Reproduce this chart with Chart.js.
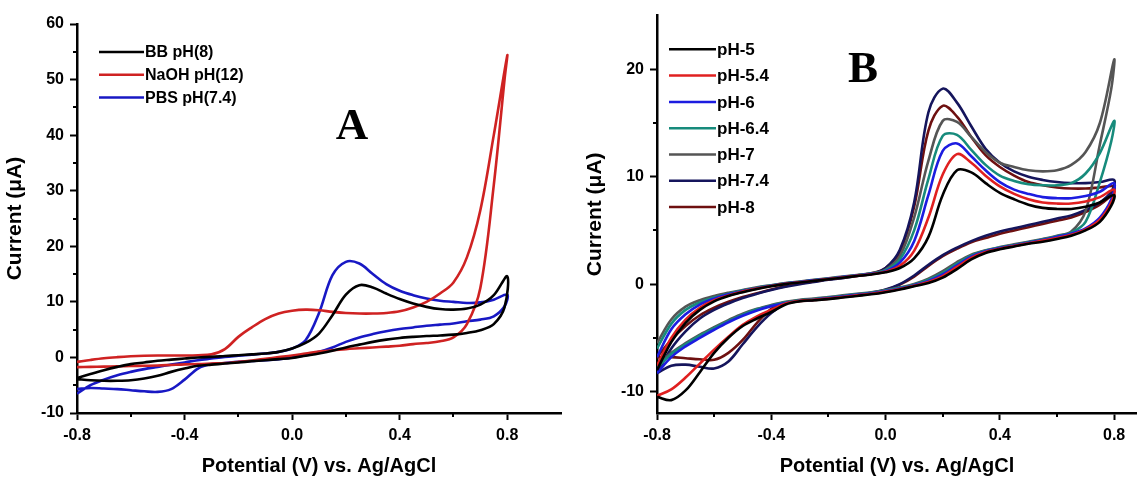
<!DOCTYPE html>
<html>
<head>
<meta charset="utf-8">
<script src="https://cdn.jsdelivr.net/npm/chart.js@4.4.1/dist/chart.umd.min.js"></script>
<style>
  html, body { margin: 0; padding: 0; background: #fff; }
  #wrap { position: relative; width: 1137px; height: 480px; overflow: hidden; }
  canvas { position: absolute; top: 0; }
  #chart-a { left: 0; }
  #chart-b { left: 580px; }
</style>
</head>
<body>
<div id="wrap">
  <canvas id="chart-a" width="568" height="480"></canvas>
  <canvas id="chart-b" width="557" height="480"></canvas>
</div>
<script>
// potential grid: anodic sweep -0.8 -> 0.8, cathodic sweep back to -0.8
const E_FWD = [-0.8, -0.75, -0.7, -0.65, -0.6, -0.55, -0.5, -0.45, -0.4, -0.35, -0.3, -0.25, -0.2, -0.15, -0.1, -0.05, 0,
  0.05, 0.1, 0.15, 0.2, 0.25, 0.3, 0.35, 0.4, 0.45, 0.5, 0.55, 0.6, 0.65, 0.7, 0.75, 0.8];
const E_REV = [0.79, 0.75, 0.7, 0.65, 0.6, 0.55, 0.5, 0.45, 0.4, 0.35, 0.3, 0.25, 0.2, 0.15, 0.1, 0.05, 0,
  -0.05, -0.1, -0.15, -0.2, -0.25, -0.3, -0.35, -0.4, -0.45, -0.5, -0.55, -0.6, -0.65, -0.7, -0.75, -0.8];

// panel A (current, µA)
const BB_FWD = [-3.7, -3.0, -2.3, -1.7, -1.2, -0.9, -0.6, -0.4, -0.2, 0.0, 0.1, 0.25, 0.4, 0.55, 0.7, 1.0, 1.6,
  2.6, 4.3, 7.6, 11.3, 13.0, 12.6, 11.5, 10.5, 9.7, 9.1, 8.7, 8.6, 8.8, 9.5, 11.2, 14.6];
const BB_REV = [9.0, 6.0, 4.9, 4.4, 4.1, 3.95, 3.85, 3.7, 3.5, 3.2, 2.8, 2.3, 1.8, 1.2, 0.7, 0.3, -0.1,
  -0.3, -0.5, -0.7, -0.9, -1.1, -1.3, -1.5, -2.0, -2.6, -3.3, -3.8, -4.1, -4.2, -4.2, -4.1, -3.9];
const NAOH_FWD = [-0.8, -0.45, -0.15, 0.05, 0.2, 0.3, 0.35, 0.35, 0.35, 0.4, 0.55, 1.5, 3.7, 5.4, 6.9, 7.9, 8.4,
  8.6, 8.5, 8.2, 8.0, 7.9, 7.9, 8.0, 8.3, 9.0, 10.0, 11.5, 13.5, 18.0, 26.5, 40.0, 54.3];
const NAOH_REV = [50.0, 31.0, 12.5, 6.0, 3.6, 2.9, 2.6, 2.4, 2.1, 1.95, 1.8, 1.65, 1.5, 1.3, 1.05, 0.7, 0.35,
  0.05, -0.25, -0.55, -0.8, -1.0, -1.1, -1.2, -1.25, -1.35, -1.45, -1.5, -1.55, -1.6, -1.65, -1.7, -1.75];
const PBS_FWD = [-6.5, -5.0, -4.0, -3.2, -2.6, -2.1, -1.7, -1.3, -0.9, -0.5, -0.2, 0.1, 0.3, 0.5, 0.7, 1.0, 1.6,
  3.1, 8.0, 14.8, 17.2, 16.9, 15.0, 13.2, 12.0, 11.2, 10.6, 10.2, 10.0, 9.8, 9.9, 10.4, 11.3];
const PBS_REV = [9.2, 7.4, 6.8, 6.5, 6.1, 5.9, 5.7, 5.4, 5.1, 4.7, 4.2, 3.6, 2.8, 1.8, 1.0, 0.4, 0.0,
  -0.3, -0.5, -0.65, -0.8, -1.0, -1.2, -2.0, -4.0, -5.7, -6.2, -6.1, -5.9, -5.7, -5.6, -5.5, -5.7];

// panel B (current, µA)
const PH5_FWD = [-8.0, -5.4, -3.6, -2.4, -1.6, -1.1, -0.75, -0.45, -0.2, 0.0, 0.15, 0.3, 0.45, 0.6, 0.75, 0.9, 1.1,
  1.5, 2.4, 4.4, 8.3, 10.6, 10.4, 9.4, 8.5, 7.9, 7.4, 7.1, 7.0, 7.0, 7.2, 7.6, 8.3];
const PH5_REV = [7.3, 5.8, 5.0, 4.5, 4.2, 3.95, 3.75, 3.5, 3.25, 2.9, 2.3, 1.4, 0.6, 0.1, -0.2, -0.5, -0.75,
  -0.95, -1.1, -1.25, -1.4, -1.5, -1.6, -1.9, -2.6, -3.2, -3.9, -5.0, -6.4, -8.2, -9.9, -10.8, -10.5];
const PH54_FWD = [-7.6, -5.0, -3.3, -2.2, -1.5, -1.05, -0.7, -0.42, -0.18, 0.02, 0.18, 0.32, 0.47, 0.62, 0.77, 0.92, 1.15,
  1.7, 3.1, 6.2, 10.2, 12.1, 11.3, 10.1, 9.1, 8.4, 7.9, 7.6, 7.5, 7.5, 7.7, 8.1, 8.8];
const PH54_REV = [7.6, 6.0, 5.1, 4.6, 4.3, 4.05, 3.8, 3.55, 3.3, 3.0, 2.45, 1.6, 0.75, 0.2, -0.15, -0.45, -0.7,
  -0.9, -1.05, -1.2, -1.35, -1.45, -1.55, -1.8, -2.4, -3.0, -3.8, -4.9, -6.1, -7.4, -8.7, -9.8, -10.4];
const PH6_FWD = [-6.8, -4.2, -2.8, -1.9, -1.35, -0.95, -0.65, -0.38, -0.15, 0.05, 0.2, 0.35, 0.5, 0.65, 0.8, 0.95, 1.2,
  2.0, 4.0, 8.3, 12.4, 13.1, 11.9, 10.6, 9.5, 8.8, 8.4, 8.1, 8.0, 8.0, 8.2, 8.6, 9.4];
const PH6_REV = [7.9, 6.2, 5.2, 4.7, 4.4, 4.1, 3.85, 3.6, 3.35, 3.05, 2.55, 1.75, 0.9, 0.3, -0.1, -0.4, -0.65,
  -0.85, -1.0, -1.15, -1.3, -1.45, -1.55, -1.75, -2.05, -2.45, -2.95, -3.55, -4.25, -5.0, -5.8, -6.8, -8.3];
const PH64_FWD = [-6.0, -3.7, -2.4, -1.7, -1.25, -0.9, -0.6, -0.35, -0.12, 0.07, 0.22, 0.37, 0.52, 0.67, 0.82, 0.98, 1.3,
  2.3, 5.0, 9.8, 13.8, 13.9, 12.5, 11.1, 10.1, 9.6, 9.3, 9.2, 9.2, 9.4, 10.3, 12.2, 15.2];
const PH64_REV = [13.3, 9.5, 5.8, 4.8, 4.45, 4.15, 3.9, 3.65, 3.4, 3.1, 2.65, 1.9, 1.05, 0.4, -0.05, -0.35, -0.6,
  -0.8, -0.95, -1.1, -1.25, -1.4, -1.5, -1.7, -2.0, -2.35, -2.85, -3.45, -4.1, -4.8, -5.6, -6.5, -7.8];
const PH7_FWD = [-5.5, -3.3, -2.1, -1.5, -1.1, -0.8, -0.55, -0.3, -0.1, 0.1, 0.25, 0.4, 0.55, 0.7, 0.85, 1.0, 1.35,
  2.6, 6.2, 11.5, 15.2, 15.1, 13.7, 12.3, 11.3, 10.9, 10.6, 10.5, 10.6, 11.1, 12.3, 15.0, 20.9];
const PH7_REV = [18.2, 13.0, 6.8, 4.9, 4.5, 4.2, 3.95, 3.7, 3.45, 3.15, 2.75, 2.05, 1.2, 0.5, 0.0, -0.3, -0.55,
  -0.75, -0.9, -1.05, -1.2, -1.35, -1.45, -1.65, -1.95, -2.3, -2.75, -3.35, -4.0, -4.7, -5.5, -6.4, -7.6];
const PH74_FWD = [-8.3, -6.0, -4.4, -3.2, -2.4, -1.8, -1.3, -0.9, -0.55, -0.25, 0.0, 0.2, 0.4, 0.55, 0.75, 0.95, 1.5,
  3.2, 7.6, 16.0, 18.2, 16.9, 14.7, 12.6, 11.3, 10.5, 10.0, 9.7, 9.5, 9.4, 9.4, 9.5, 9.7];
const PH74_REV = [8.6, 7.6, 6.9, 6.4, 6.1, 5.8, 5.5, 5.2, 4.9, 4.5, 4.0, 3.4, 2.7, 1.8, 0.8, 0.0, -0.5,
  -0.8, -1.0, -1.15, -1.3, -1.45, -1.55, -1.8, -2.7, -4.0, -5.6, -7.2, -7.85, -7.7, -7.5, -7.6, -8.3];
const PH8_FWD = [-6.8, -5.2, -3.9, -2.9, -2.2, -1.65, -1.2, -0.85, -0.5, -0.2, 0.05, 0.25, 0.45, 0.6, 0.8, 1.0, 1.5,
  3.0, 7.2, 14.3, 16.6, 15.6, 13.7, 12.0, 10.9, 10.1, 9.5, 9.2, 9.0, 8.9, 8.9, 9.0, 9.1];
const PH8_REV = [8.3, 7.4, 6.7, 6.2, 5.9, 5.6, 5.3, 5.0, 4.7, 4.3, 3.9, 3.3, 2.6, 1.7, 0.7, -0.05, -0.55,
  -0.85, -1.05, -1.2, -1.35, -1.5, -1.6, -1.75, -2.3, -3.6, -5.2, -6.4, -7.05, -7.0, -6.9, -6.8, -6.8];

// axis ticks
const X_MAJOR = [-0.8, -0.4, 0, 0.4, 0.8];
const X_MINOR = [-0.6, -0.2, 0.2, 0.6];
const A_Y_MAJOR = [-10, 0, 10, 20, 30, 40, 50, 60];
const A_Y_MINOR = [-5, 5, 15, 25, 35, 45, 55];
const B_Y_MAJOR = [-10, 0, 10, 20];
const B_Y_MINOR = [-5, 5, 15];

const FONT = '"Liberation Sans", Arial, sans-serif';

const loop = (fwd, rev) =>
  E_FWD.map((x, i) => ({ x, y: fwd[i] })).concat(E_REV.map((x, i) => ({ x, y: rev[i] })));

const series = (label, color, fwd, rev) => ({
  label, data: loop(fwd, rev), borderColor: color, borderWidth: 2.6,
  showLine: true, pointRadius: 0, tension: 0.35, fill: false,
});

// minor ticks, in-plot legend and panel letter
const deco = cfg => ({
  id: 'deco',
  afterDraw(chart) {
    const { ctx, chartArea: a, scales: { x, y } } = chart;
    ctx.save();
    ctx.strokeStyle = '#000';
    ctx.lineWidth = 2;
    ctx.beginPath();
    X_MINOR.forEach(v => {
      const px = Math.round(x.getPixelForValue(v));
      ctx.moveTo(px, a.bottom); ctx.lineTo(px, a.bottom + 4);
    });
    cfg.yMinor.forEach(v => {
      const py = Math.round(y.getPixelForValue(v));
      ctx.moveTo(a.left, py); ctx.lineTo(a.left - 4, py);
    });
    ctx.stroke();

    const lg = cfg.legend;
    ctx.font = `bold ${lg.size}px ${FONT}`;
    ctx.textBaseline = 'middle';
    ctx.textAlign = 'left';
    chart.data.datasets.forEach((d, i) => {
      const ly = lg.y + i * lg.dy;
      ctx.strokeStyle = d.borderColor;
      ctx.lineWidth = 2.5;
      ctx.beginPath(); ctx.moveTo(lg.x1, ly); ctx.lineTo(lg.x2, ly); ctx.stroke();
      ctx.fillStyle = '#000';
      ctx.fillText(d.label, lg.x2 + 1, ly + 1);
    });

    ctx.font = 'bold 45px "Liberation Serif", "Times New Roman", serif';
    ctx.textAlign = 'center';
    ctx.textBaseline = 'alphabetic';
    ctx.fillStyle = '#000';
    ctx.fillText(cfg.letter, cfg.letterX, cfg.letterY);
    ctx.restore();
  },
});

const scale = (min, max, major, title, size, fmt, fit) => ({
  type: 'linear', min, max,
  afterBuildTicks: s => { s.ticks = major.map(value => ({ value })); },
  afterFit: fit,
  ticks: { color: '#000', padding: 6, font: { family: FONT, size: 16, weight: 'bold' }, callback: fmt },
  grid: { drawOnChartArea: false, drawTicks: true, tickLength: 7, tickWidth: 2, tickColor: '#000' },
  border: { display: true, color: '#000', width: 2.5 },
  title: { display: true, text: title, color: '#000', padding: { top: 3, bottom: 2 },
    font: { family: FONT, size, weight: 'bold' } },
});

function makeChart(id, datasets, yMin, yMax, yMajor, yMinor, xMax, pad, extra) {
  return new Chart(document.getElementById(id), {
    type: 'scatter',
    data: { datasets },
    options: {
      responsive: false, animation: false, devicePixelRatio: 1,
      layout: { padding: pad },
      plugins: { legend: { display: false }, tooltip: { enabled: false } },
      scales: {
        x: scale(-0.8, xMax, X_MAJOR, 'Potential (V) vs. Ag/AgCl', 20, v => v.toFixed(1), s => { s.height = 67; }),
        y: scale(yMin, yMax, yMajor, 'Current (\u03bcA)', 21, v => String(v), s => { s.width = 77; }),
      },
    },
    plugins: [deco({ yMinor, ...extra })],
  });
}

makeChart('chart-a', [
  series('BB pH(8)', '#000000', BB_FWD, BB_REV),
  series('NaOH pH(12)', '#cf2222', NAOH_FWD, NAOH_REV),
  series('PBS pH(7.4)', '#1818c4', PBS_FWD, PBS_REV),
], -10, 60, A_Y_MAJOR, A_Y_MINOR, 1.0, { top: 24, right: 7, bottom: 0, left: 0 }, {
  legend: { x1: 99, x2: 144, y: 52, dy: 22.7, size: 16 },
  letter: 'A', letterX: 352, letterY: 139,
});

makeChart('chart-b', [
  series('pH-5', '#000000', PH5_FWD, PH5_REV),
  series('pH-5.4', '#e02020', PH54_FWD, PH54_REV),
  series('pH-6', '#1c1ce0', PH6_FWD, PH6_REV),
  series('pH-6.4', '#178b7c', PH64_FWD, PH64_REV),
  series('pH-7', '#555555', PH7_FWD, PH7_REV),
  series('pH-7.4', '#15155c', PH74_FWD, PH74_REV),
  series('pH-8', '#6e1010', PH8_FWD, PH8_REV),
], -12, 25, B_Y_MAJOR, B_Y_MINOR, 0.88, { top: 13, right: 0, bottom: 0, left: 0 }, {
  legend: { x1: 89, x2: 136, y: 49.3, dy: 26.3, size: 17 },
  letter: 'B', letterX: 283, letterY: 82,
});
</script>
</body>
</html>
